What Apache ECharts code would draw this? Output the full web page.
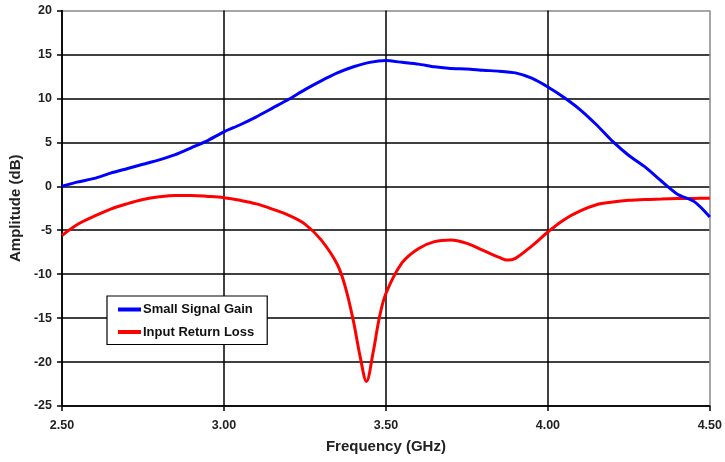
<!DOCTYPE html>
<html>
<head>
<meta charset="utf-8">
<script src="https://cdn.jsdelivr.net/npm/echarts@6/dist/echarts.min.js"></script>
<style>
  html, body { margin: 0; padding: 0; background: #fff; }
  #chart { width: 725px; height: 462px; }
</style>
</head>
<body>
<div id="chart"></div>
<script>
// Small signal gain (dB) vs frequency (GHz)
const gainFreq = [2.50, 2.55, 2.60, 2.65, 2.70, 2.75, 2.80, 2.85, 2.90, 2.95,
  3.00, 3.05, 3.10, 3.15, 3.20, 3.25, 3.30, 3.35, 3.40, 3.45,
  3.50, 3.55, 3.60, 3.65, 3.70, 3.75, 3.80, 3.85, 3.90, 3.95,
  4.00, 4.05, 4.10, 4.15, 4.20, 4.25, 4.30, 4.35, 4.40, 4.45, 4.475, 4.50];
const gainDb = [0.0, 0.5, 0.9, 1.5, 2.0, 2.5, 3.0, 3.6, 4.4, 5.2,
  6.2, 7.0, 7.9, 8.9, 9.9, 11.0, 12.0, 12.9, 13.6, 14.1,
  14.3, 14.1, 13.9, 13.6, 13.4, 13.35, 13.2, 13.1, 12.9, 12.3,
  11.3, 10.1, 8.7, 7.0, 5.1, 3.5, 2.2, 0.6, -0.9, -1.7, -2.5, -3.5];

// Input return loss (dB) vs frequency (GHz)
const rlFreq = [2.50, 2.55, 2.60, 2.65, 2.70, 2.75, 2.80, 2.85, 2.90, 2.95,
  3.00, 3.05, 3.10, 3.15, 3.20, 3.25, 3.30, 3.35, 3.375, 3.40,
  3.42, 3.44, 3.46, 3.48, 3.50, 3.55, 3.60, 3.65, 3.70, 3.75,
  3.80, 3.85, 3.875, 3.90, 3.95, 4.00, 4.05, 4.10, 4.15, 4.20,
  4.25, 4.30, 4.35, 4.40, 4.45, 4.50];
const rlDb = [-5.6, -4.3, -3.4, -2.6, -2.0, -1.5, -1.2, -1.05, -1.05, -1.15,
  -1.3, -1.6, -2.0, -2.6, -3.3, -4.3, -6.1, -8.9, -11.5, -15.4,
  -19.3, -22.2, -19.0, -14.9, -12.2, -8.7, -7.1, -6.3, -6.1, -6.5,
  -7.3, -8.1, -8.4, -8.2, -6.8, -5.2, -3.8, -2.8, -2.1, -1.8,
  -1.6, -1.5, -1.45, -1.4, -1.38, -1.35];

const seriesNames = ['Small Signal Gain', 'Input Return Loss'];

const pairs = (xs, ys) => xs.map((x, i) => [x, ys[i]]);
const font = 'Arial, "Liberation Sans", sans-serif';

const ySplitColors = ['#000', '#000', '#000', '#000', '#000', '#000', '#000', '#000', '#000', '#888'];
const xSplitColors = ['#000', '#000', '#000', '#000', '#888'];

const chart = echarts.init(document.getElementById('chart'), null, { renderer: 'canvas' });
chart.setOption({
  animation: false,
  backgroundColor: '#fff',
  grid: { left: 62, right: 14, top: 10.5, bottom: 56 },
  xAxis: {
    type: 'value', min: 2.5, max: 4.5, interval: 0.5,
    name: 'Frequency (GHz)', nameLocation: 'middle', nameGap: 33,
    nameTextStyle: { fontFamily: font, fontWeight: 'bold', fontSize: 15, color: '#222' },
    axisLine: { show: true, onZero: false, lineStyle: { color: '#000', width: 1.5 } },
    axisTick: { show: true, length: 5, lineStyle: { color: '#000', width: 1.5 } },
    axisLabel: { formatter: v => v.toFixed(2), margin: 13, fontFamily: font, fontWeight: 'bold', fontSize: 12.5, color: '#222' },
    splitLine: { show: true, lineStyle: { color: xSplitColors, width: 1.5 } }
  },
  yAxis: {
    type: 'value', min: -25, max: 20, interval: 5,
    name: 'Amplitude (dB)', nameLocation: 'middle', nameGap: 37,
    nameTextStyle: { fontFamily: font, fontWeight: 'bold', fontSize: 15, color: '#222' },
    axisLine: { show: true, onZero: false, lineStyle: { color: '#000', width: 1.5 } },
    axisTick: { show: true, length: 5, lineStyle: { color: '#000', width: 1.5 } },
    axisLabel: { margin: 10, fontFamily: font, fontWeight: 'bold', fontSize: 12.5, color: '#222' },
    splitLine: { show: true, lineStyle: { color: ySplitColors, width: 1.5 } }
  },
  legend: {
    orient: 'vertical', left: 107, top: 296,
    data: seriesNames,
    icon: 'rect', itemWidth: 23, itemHeight: 4, itemGap: 9.5,
    padding: [7, 13, 6, 11],
    backgroundColor: '#fff', borderColor: '#000', borderWidth: 1.2,
    textStyle: { fontFamily: font, fontWeight: 'bold', fontSize: 13, color: '#111', padding: [0, 0, 0, -3] }
  },
  series: [
    {
      name: seriesNames[0], type: 'line', data: pairs(gainFreq, gainDb),
      smooth: 0.2, showSymbol: false, color: '#0000ff',
      lineStyle: { color: '#0000ff', width: 3 }, z: 3
    },
    {
      name: seriesNames[1], type: 'line', data: pairs(rlFreq, rlDb),
      smooth: 0.35, showSymbol: false, color: '#ff0000',
      lineStyle: { color: '#ff0000', width: 3 }, z: 2
    }
  ]
});
</script>
</body>
</html>
